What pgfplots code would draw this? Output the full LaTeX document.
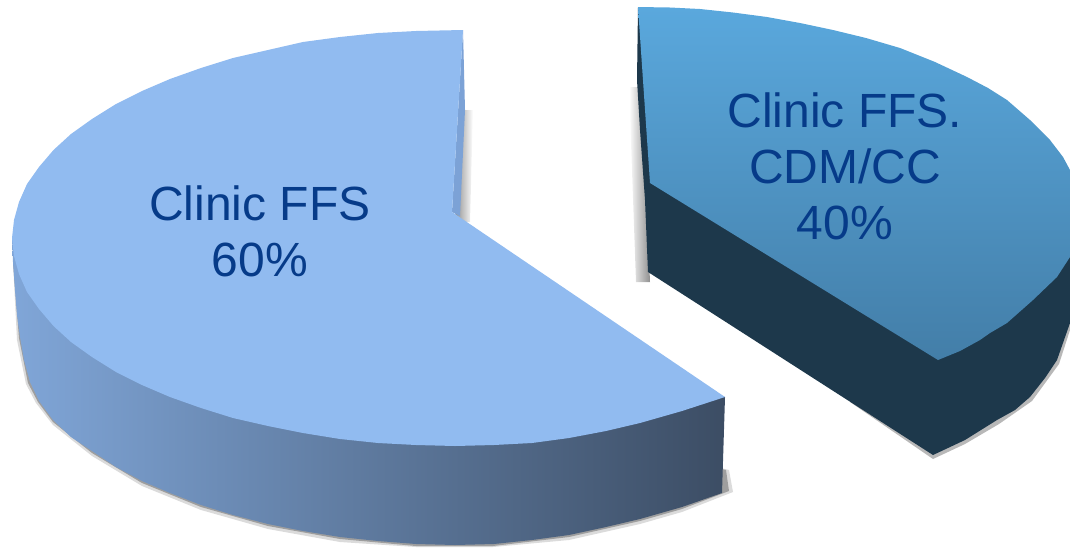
\documentclass[border=0pt]{standalone}
\usepackage{pgfplots}
\pgfplotsset{compat=1.18}
\usepackage{fontspec}
\setmainfont{Liberation Sans}
\definecolor{leftTop}{HTML}{91BBF0}
\definecolor{leftInner}{HTML}{7CA2D6}
\definecolor{wallLight}{HTML}{80A6D8}
\definecolor{wallDark}{HTML}{3C4D64}
\definecolor{rightHigh}{HTML}{5AA8DD}
\definecolor{rightLow}{HTML}{437EA8}
\definecolor{rightWall}{HTML}{1D384B}
\definecolor{labelBlue}{HTML}{063B89}
\definecolor{shadowGrey}{HTML}{8F8F8F}
\begin{document}
\begin{tikzpicture}
\begin{axis}[
    scale only axis,
    width=1070pt, height=547pt,
    xmin=0, xmax=1070,
    ymin=0, ymax=547,
    y dir=reverse,
    hide axis,
    clip=true
]
\path (axis cs:0,0) rectangle (axis cs:1070,547);
% soft shadows behind the slices
\addplot[draw=none, left color=shadowGrey, right color=white] coordinates {(460,110) (473,110) (470,222) (455,222)} -- cycle;
\addplot[draw=none, left color=white, right color=shadowGrey] coordinates {(642,87) (629,87) (636,282) (650,282)} -- cycle;
\addplot[draw=none, fill=black, opacity=0.14] coordinates {
    (729,470) (733,492) (682,512) (640,524) (569,540) (493,547) (416,547) (340,542)
    (268,529) (201,510) (142,486) (92,456) (53,425) (36,403) (26,384) (17,340) (13,262) (40,300)} -- cycle;
\addplot[draw=none, fill=black, opacity=0.28] coordinates {
    (726,470) (729,491) (682,509) (640,521) (569,537) (493,546) (416,546) (340,539)
    (268,526) (201,507) (142,483) (92,453) (53,422) (38,402) (28,383) (19,338) (13,262) (40,300)} -- cycle;
\addplot[draw=none, fill=black, opacity=0.28] coordinates {
    (1070,300) (1070,330) (1059,364) (1032,401) (999,424) (965,444) (933,459) (850,402) (870,380)} -- cycle;
% left slice: wall, inner face, top
\addplot[draw=none, left color=wallLight, right color=wallDark] coordinates {
    (725,397) (722,493) (682,507) (640,519) (606,527) (569,535) (532,540) (494,544)
    (455,545) (416,544) (378,541) (340,537) (303,531) (268,524) (233,515) (201,505)
    (170,493) (142,481) (116,467) (92,451) (71,437) (53,420) (39,401) (30,382)
    (24,360) (20,337) (17,315) (15,290) (13,262) (12,238)} -- cycle;
\addplot[draw=none, fill=leftInner] coordinates {(463,30) (465,110) (460,216) (452,212)} -- cycle;
\addplot[draw=none, fill=leftTop] coordinates {
    (463,30) (416,31) (378,33) (340,37) (303,42) (268,50) (233,58) (201,68) (170,79)
    (142,91) (116,104) (92,119) (71,134) (53.5,150) (39,167) (27,184) (19,202) (14,220)
    (12,238) (14,256) (19,274) (27,292) (39,309) (53.5,326) (71,342) (92,357) (116,372)
    (142,385) (170,397) (201,408) (233,418) (268,426) (303,433) (340,439) (378,443)
    (416,445) (455,446) (494,445) (532,443) (569,438) (606,431) (640,423) (682,411)
    (725,397) (452,212)} -- cycle;
% right slice
\addplot[draw=none, fill=rightWall] coordinates {
    (638,7) (637,80) (640,130) (645,200) (648,272) (933,455) (965,440) (997,420)
    (1015,410) (1030,397) (1045,378) (1057,360) (1070,323) (1070,200) (938,300)} -- cycle;
\addplot[draw=none, top color=rightHigh, bottom color=rightLow] coordinates {
    (638,7) (670,7.5) (700,9) (733,12.5) (767,17) (800,23) (833,30) (866,38) (900,48)
    (935,62) (967,77) (988,88) (1007,100) (1030,120) (1050,140) (1063,157) (1070,170)
    (1070,257) (1057,277) (1033,300) (1007,323) (990,333) (980,340) (960,351) (938,360)
    (650,183)} -- cycle;
% labels
\node[text=labelBlue, font=\fontsize{48}{56}\selectfont, align=center] at (axis cs:260,231) {Clinic FFS\\60\%};
\node[text=labelBlue, font=\fontsize{48}{56}\selectfont, align=center] at (axis cs:845,166) {Clinic FFS.\\CDM/CC\\40\%};
\end{axis}
\end{tikzpicture}
\end{document}
